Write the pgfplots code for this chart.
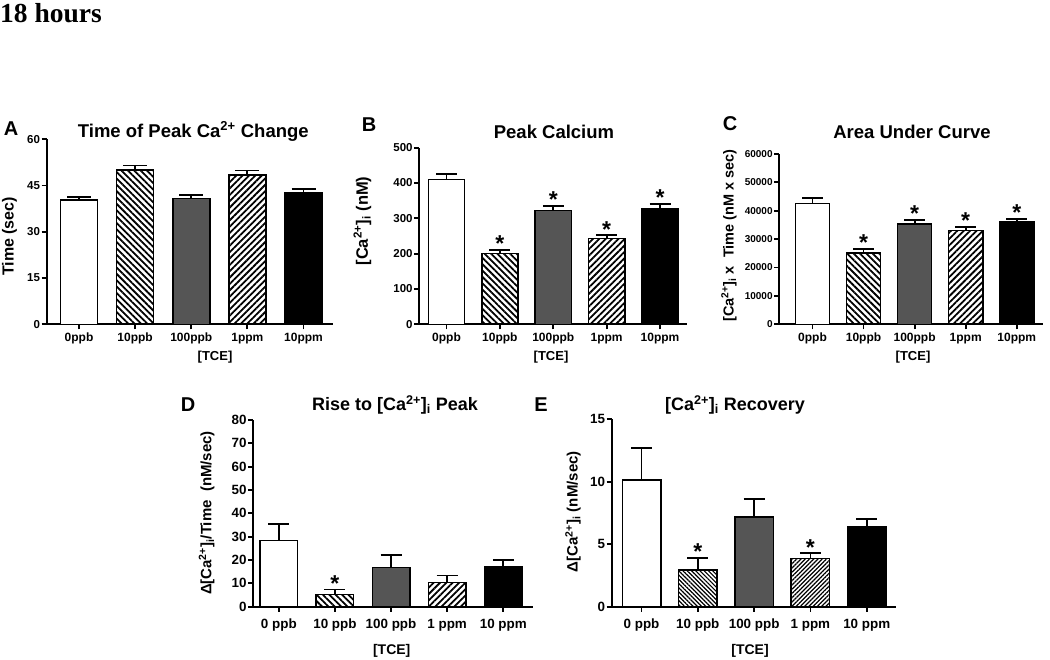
\documentclass[border=0pt]{standalone}
\usepackage{pgfplots}
\pgfplotsset{compat=1.18}
\usepackage{fontspec}
\setmainfont{Liberation Sans}
\newfontfamily\seriffont{Liberation Serif}
\usetikzlibrary{patterns.meta}
\definecolor{barGray}{RGB}{85,85,85}
\newcommand\F[1]{\fontsize{#1}{#1}\selectfont\bfseries}
\def\capsz{10.5pt}
\def\hdist{4.5pt}
\def\hwid{1.8pt}
\pgfplotsset{
  gp/.style={
    scale only axis, clip=false, anchor=south west,
    axis lines=left, axis line style={-, line width=2pt, black},
    tick style={line width=1.8pt, black},
    major tick length=5pt, tick align=outside,
    xtick={0,1,2,3,4}, ymin=0,
    ybar, bar shift=0pt,
    /pgf/number format/assume math mode=true,
    /pgf/number format/set thousands separator={},
    scaled y ticks=false,
    yticklabel style={inner sep=1.5pt},
    xticklabel style={inner sep=2pt},
  },
  barbase/.style={draw=black, line width=1.5pt,
     error bars/y dir=plus, error bars/y explicit,
     error bars/error bar style={line width=1.8pt, black, solid},
     error bars/error mark options={rotate=90, line width=1.8pt, black, solid, mark size=\capsz}},
  b0/.style={barbase, fill=white},
  b1/.style={barbase, pattern={Lines[angle=-45,distance=\hdist,line width=\hwid]}, pattern color=black},
  b2/.style={barbase, fill=barGray},
  b3/.style={barbase, pattern={Lines[angle=45,distance=\hdist,line width=\hwid]}, pattern color=black},
  b4/.style={barbase, fill=black},
  star/.style={sharp plot, draw=none, mark=none, error bars/y dir=none,
     nodes near coords={*},
     every node near coord/.style={anchor=base, inner sep=0pt, yshift=-2pt, black, font=\F{23}}},
}
\begin{document}
\begin{tikzpicture}
\useasboundingbox (0,0) rectangle (1050pt,660pt);
\node[anchor=base west, inner sep=0pt, font=\seriffont\bfseries\fontsize{27.5}{30}\selectfont] at (0pt,637pt) {18 hours};

% ---------------- Panel A
\def\capsz{12pt}
\begin{axis}[gp, at={(46.7pt,335.7pt)}, width=286pt, height=185pt,
  xmin=-0.576, xmax=4.52, ymax=60, ytick={0,15,30,45,60}, bar width=0.66,
  xticklabels={0ppb,10ppb,100ppb,1ppm,10ppm},
  xticklabel style={font=\F{12}, yshift=-1.5pt}, yticklabel style={font=\F{11.5}}]
\addplot[b0] coordinates {(0,40.3) +- (0,1.1)};
\addplot[b1] coordinates {(1,50.0) +- (0,1.5)};
\addplot[b2] coordinates {(2,40.8) +- (0,1.1)};
\addplot[b3] coordinates {(3,48.5) +- (0,1.4)};
\addplot[b4] coordinates {(4,42.7) +- (0,1.1)};
\end{axis}

% ---------------- Panel B
\def\capsz{10.5pt}
\begin{axis}[gp, at={(419.3pt,335.7pt)}, width=267.4pt, height=176.6pt,
  xmin=-0.51, xmax=4.5, ymax=500, ytick={0,100,...,500}, bar width=0.68,
  xticklabels={0ppb,10ppb,100ppb,1ppm,10ppm},
  xticklabel style={font=\F{12}, yshift=-1.5pt}, yticklabel style={font=\F{11.5}}]
\addplot[b0] coordinates {(0,410.4) +- (0,16)};
\addplot[b1] coordinates {(1,201) +- (0,9.4)};
\addplot[b2] coordinates {(2,321.7) +- (0,13.3)};
\addplot[b3] coordinates {(3,243.4) +- (0,8.6)};
\addplot[b4] coordinates {(4,326.4) +- (0,14.2)};
\addplot[star] coordinates {(1,210.4) (2,335) (3,252) (4,340.6)};
\end{axis}

% ---------------- Panel C
\begin{axis}[gp, at={(779.3pt,335.7pt)}, width=264pt, height=170.3pt,
  xmin=-0.65, xmax=4.52, ymax=60000, ytick={0,10000,...,60000}, bar width=0.67,
  xticklabels={0ppb,10ppb,100ppb,1ppm,10ppm},
  xticklabel style={font=\F{12}, yshift=-1.5pt}, yticklabel style={font=\F{10}}]
\addplot[b0] coordinates {(0,42505) +- (0,1995)};
\addplot[b1] coordinates {(1,25127) +- (0,1409)};
\addplot[b2] coordinates {(2,35342) +- (0,1527)};
\addplot[b3] coordinates {(3,32994) +- (0,1292)};
\addplot[b4] coordinates {(4,36047) +- (0,1057)};
\addplot[star] coordinates {(1,26536) (2,36869) (3,34286) (4,37104)};
\end{axis}

% ---------------- Panel D
\def\hdist{3pt}
\def\hwid{1.2pt}
\begin{axis}[gp, at={(253.3pt,53.3pt)}, width=279.7pt, height=186.7pt,
  xmin=-0.455, xmax=4.53, ymax=80, ytick={0,10,...,80}, bar width=0.67,
  xticklabels={0 ppb,10 ppb,100 ppb,1 ppm,10 ppm},
  xticklabel style={font=\F{13.4}, yshift=-5pt}, yticklabel style={font=\F{13.4}}]
\addplot[b0] coordinates {(0,28.3) +- (0,7.0)};
\addplot[b1] coordinates {(1,5.3) +- (0,2.1)};
\addplot[b2] coordinates {(2,16.9) +- (0,5.1)};
\def\hdist{4.5pt}
\def\hwid{1.8pt}
\addplot[b3] coordinates {(3,10.3) +- (0,3.1)};
\addplot[b4] coordinates {(4,17.1) +- (0,2.9)};
\addplot[star] coordinates {(1,7.4)};
\end{axis}

% ---------------- Panel E
\begin{axis}[gp, at={(611.7pt,53.3pt)}, width=284.3pt, height=187.4pt,
  xmin=-0.53, xmax=4.52, ymax=15, ytick={0,5,10,15}, bar width=0.685,
  xticklabels={0 ppb,10 ppb,100 ppb,1 ppm,10 ppm},
  xticklabel style={font=\F{13.4}, yshift=-5pt}, yticklabel style={font=\F{13.4}}]
\addplot[b0] coordinates {(0,10.14) +- (0,2.54)};
\addplot[b1] coordinates {(1,2.94) +- (0,0.96)};
\addplot[b2] coordinates {(2,7.18) +- (0,1.41)};
\addplot[b3] coordinates {(3,3.85) +- (0,0.42)};
\addplot[b4] coordinates {(4,6.36) +- (0,0.66)};
\addplot[star] coordinates {(1,3.9) (3,4.27)};
\end{axis}

% ---------------- texts
\node[font=\F{20}] at (11pt,531pt) {A};
\node[font=\F{20}] at (369pt,535pt) {B};
\node[font=\F{20}] at (730pt,536pt) {C};
\node[font=\F{20}] at (188pt,255pt) {D};
\node[font=\F{20}] at (541pt,255pt) {E};

\node[font=\F{18.5}] at (193.3pt,528.5pt) {Time of Peak Ca\textsuperscript{2+} Change};
\node[font=\F{18.5}] at (554pt,528.5pt) {Peak Calcium};
\node[font=\F{18.5}] at (912pt,528.5pt) {Area Under Curve};
\node[font=\F{18}] at (395pt,255pt) {Rise to [Ca\textsuperscript{2+}]\textsubscript{i} Peak};
\node[font=\F{18}] at (735pt,255pt) {[Ca\textsuperscript{2+}]\textsubscript{i} Recovery};

\node[font=\F{16}, rotate=90] at (9.5pt,423.5pt) {Time (sec)};
\node[font=\F{16.5}, rotate=90] at (362.5pt,439pt) {[Ca\textsuperscript{2+}]\textsubscript{i} (nM)};
\node[font=\F{14.5}, rotate=90] at (729pt,424.5pt) {[Ca\textsuperscript{2+}]\textsubscript{i} x~ Time (nM x sec)};
\node[font=\F{15}, rotate=90] at (206.7pt,147pt) {Δ[Ca\textsuperscript{2+}]\textsubscript{i}/Time~ (nM/sec)};
\node[font=\F{15}, rotate=90] at (573pt,148.3pt) {Δ[Ca\textsuperscript{2+}]\textsubscript{i} (nM/sec)};

\node[font=\F{13}] at (215pt,302.5pt) {[TCE]};
\node[font=\F{13}] at (551pt,302.5pt) {[TCE]};
\node[font=\F{13}] at (913pt,302.5pt) {[TCE]};
\node[font=\F{14}] at (391.7pt,9pt) {[TCE]};
\node[font=\F{14}] at (750pt,9pt) {[TCE]};
\end{tikzpicture}
\end{document}
